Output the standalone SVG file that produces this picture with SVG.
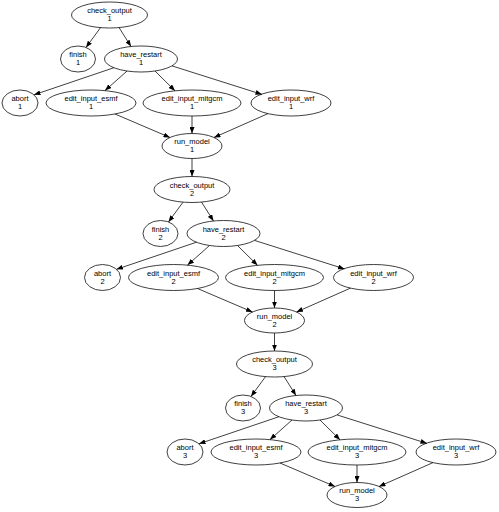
<svg xmlns="http://www.w3.org/2000/svg" width="499" height="512" viewBox="0 0 499 512">
<style>
.n ellipse{fill:none;stroke:#000;stroke-width:0.75}
.n text{font-family:"Liberation Sans",Arial,sans-serif;font-size:7.5px;fill:#000;text-anchor:middle}
.c line{stroke:#000;stroke-width:0.75;marker-end:url(#ah)}
</style>
<defs>
<marker id="ah" markerUnits="userSpaceOnUse" markerWidth="7" markerHeight="5" refX="6.5" refY="2.5" orient="auto">
<path d="M0,0 L6.5,2.5 L0,5 z" fill="#000"/>
</marker>
</defs>
<rect width="499" height="512" fill="#fff"/>
<g id="connectors" class="c">
<line x1="100.5" y1="27.7" x2="86" y2="47.4"/>
<line x1="119" y1="27.5" x2="131" y2="46.5"/>
<line x1="114" y1="67.7" x2="34" y2="94.8"/>
<line x1="127" y1="71" x2="105" y2="90.6"/>
<line x1="155" y1="71" x2="175" y2="90.8"/>
<line x1="172" y1="65.9" x2="262" y2="94.4"/>
<line x1="115" y1="114" x2="170" y2="137.5"/>
<line x1="192" y1="116" x2="192" y2="133.5"/>
<line x1="268" y1="113.6" x2="214" y2="137.5"/>
<line x1="192" y1="158.5" x2="192" y2="176.5"/>
<line x1="183" y1="202.2" x2="168.5" y2="221.9"/>
<line x1="201.5" y1="202" x2="213.5" y2="221"/>
<line x1="196.5" y1="242.2" x2="116.5" y2="269.3"/>
<line x1="209.5" y1="245.5" x2="187.5" y2="265.1"/>
<line x1="237.5" y1="245.5" x2="257.5" y2="265.3"/>
<line x1="254.5" y1="240.4" x2="344.5" y2="268.9"/>
<line x1="197.5" y1="288.5" x2="252.5" y2="312"/>
<line x1="274.5" y1="290.5" x2="274.5" y2="308"/>
<line x1="350.5" y1="288.1" x2="296.5" y2="312"/>
<line x1="274.5" y1="333" x2="274.5" y2="351"/>
<line x1="265.5" y1="376.7" x2="251" y2="396.4"/>
<line x1="284" y1="376.5" x2="296" y2="395.5"/>
<line x1="279" y1="416.7" x2="199" y2="443.8"/>
<line x1="292" y1="420" x2="270" y2="439.6"/>
<line x1="320" y1="420" x2="340" y2="439.8"/>
<line x1="337" y1="414.9" x2="427" y2="443.4"/>
<line x1="280" y1="463" x2="335" y2="486.5"/>
<line x1="357" y1="465" x2="357" y2="482.5"/>
<line x1="433" y1="462.6" x2="379" y2="486.5"/>
</g>
<g id="check_output_1" class="n" transform="translate(109.5,15)"><ellipse rx="38" ry="13"/><text y="-2">check_output</text><text y="6">1</text></g>
<g id="finish_1" class="n" transform="translate(78,59)"><ellipse rx="17.5" ry="13"/><text y="-2">finish</text><text y="6">1</text></g>
<g id="have_restart_1" class="n" transform="translate(141,59)"><ellipse rx="36.5" ry="13"/><text y="-2">have_restart</text><text y="6">1</text></g>
<g id="abort_1" class="n" transform="translate(20,103)"><ellipse rx="18" ry="13"/><text y="-2">abort</text><text y="6">1</text></g>
<g id="edit_input_esmf_1" class="n" transform="translate(91,103)"><ellipse rx="45" ry="13"/><text y="-2">edit_input_esmf</text><text y="6">1</text></g>
<g id="edit_input_mitgcm_1" class="n" transform="translate(192,103)"><ellipse rx="49" ry="13"/><text y="-2">edit_input_mitgcm</text><text y="6">1</text></g>
<g id="edit_input_wrf_1" class="n" transform="translate(291,103)"><ellipse rx="40" ry="13"/><text y="-2">edit_input_wrf</text><text y="6">1</text></g>
<g id="run_model_1" class="n" transform="translate(192,146)"><ellipse rx="30" ry="12.5"/><text y="-2">run_model</text><text y="6">1</text></g>
<g id="check_output_2" class="n" transform="translate(192,189.5)"><ellipse rx="38" ry="13"/><text y="-2">check_output</text><text y="6">2</text></g>
<g id="finish_2" class="n" transform="translate(160.5,233.5)"><ellipse rx="17.5" ry="13"/><text y="-2">finish</text><text y="6">2</text></g>
<g id="have_restart_2" class="n" transform="translate(223.5,233.5)"><ellipse rx="36.5" ry="13"/><text y="-2">have_restart</text><text y="6">2</text></g>
<g id="abort_2" class="n" transform="translate(102.5,277.5)"><ellipse rx="18" ry="13"/><text y="-2">abort</text><text y="6">2</text></g>
<g id="edit_input_esmf_2" class="n" transform="translate(173.5,277.5)"><ellipse rx="45" ry="13"/><text y="-2">edit_input_esmf</text><text y="6">2</text></g>
<g id="edit_input_mitgcm_2" class="n" transform="translate(274.5,277.5)"><ellipse rx="49" ry="13"/><text y="-2">edit_input_mitgcm</text><text y="6">2</text></g>
<g id="edit_input_wrf_2" class="n" transform="translate(373.5,277.5)"><ellipse rx="40" ry="13"/><text y="-2">edit_input_wrf</text><text y="6">2</text></g>
<g id="run_model_2" class="n" transform="translate(274.5,320.5)"><ellipse rx="30" ry="12.5"/><text y="-2">run_model</text><text y="6">2</text></g>
<g id="check_output_3" class="n" transform="translate(274.5,364)"><ellipse rx="38" ry="13"/><text y="-2">check_output</text><text y="6">3</text></g>
<g id="finish_3" class="n" transform="translate(243,408)"><ellipse rx="17.5" ry="13"/><text y="-2">finish</text><text y="6">3</text></g>
<g id="have_restart_3" class="n" transform="translate(306,408)"><ellipse rx="36.5" ry="13"/><text y="-2">have_restart</text><text y="6">3</text></g>
<g id="abort_3" class="n" transform="translate(185,452)"><ellipse rx="18" ry="13"/><text y="-2">abort</text><text y="6">3</text></g>
<g id="edit_input_esmf_3" class="n" transform="translate(256,452)"><ellipse rx="45" ry="13"/><text y="-2">edit_input_esmf</text><text y="6">3</text></g>
<g id="edit_input_mitgcm_3" class="n" transform="translate(357,452)"><ellipse rx="49" ry="13"/><text y="-2">edit_input_mitgcm</text><text y="6">3</text></g>
<g id="edit_input_wrf_3" class="n" transform="translate(456,452)"><ellipse rx="40" ry="13"/><text y="-2">edit_input_wrf</text><text y="6">3</text></g>
<g id="run_model_3" class="n" transform="translate(357,495)"><ellipse rx="30" ry="12.5"/><text y="-2">run_model</text><text y="6">3</text></g>
</svg>
